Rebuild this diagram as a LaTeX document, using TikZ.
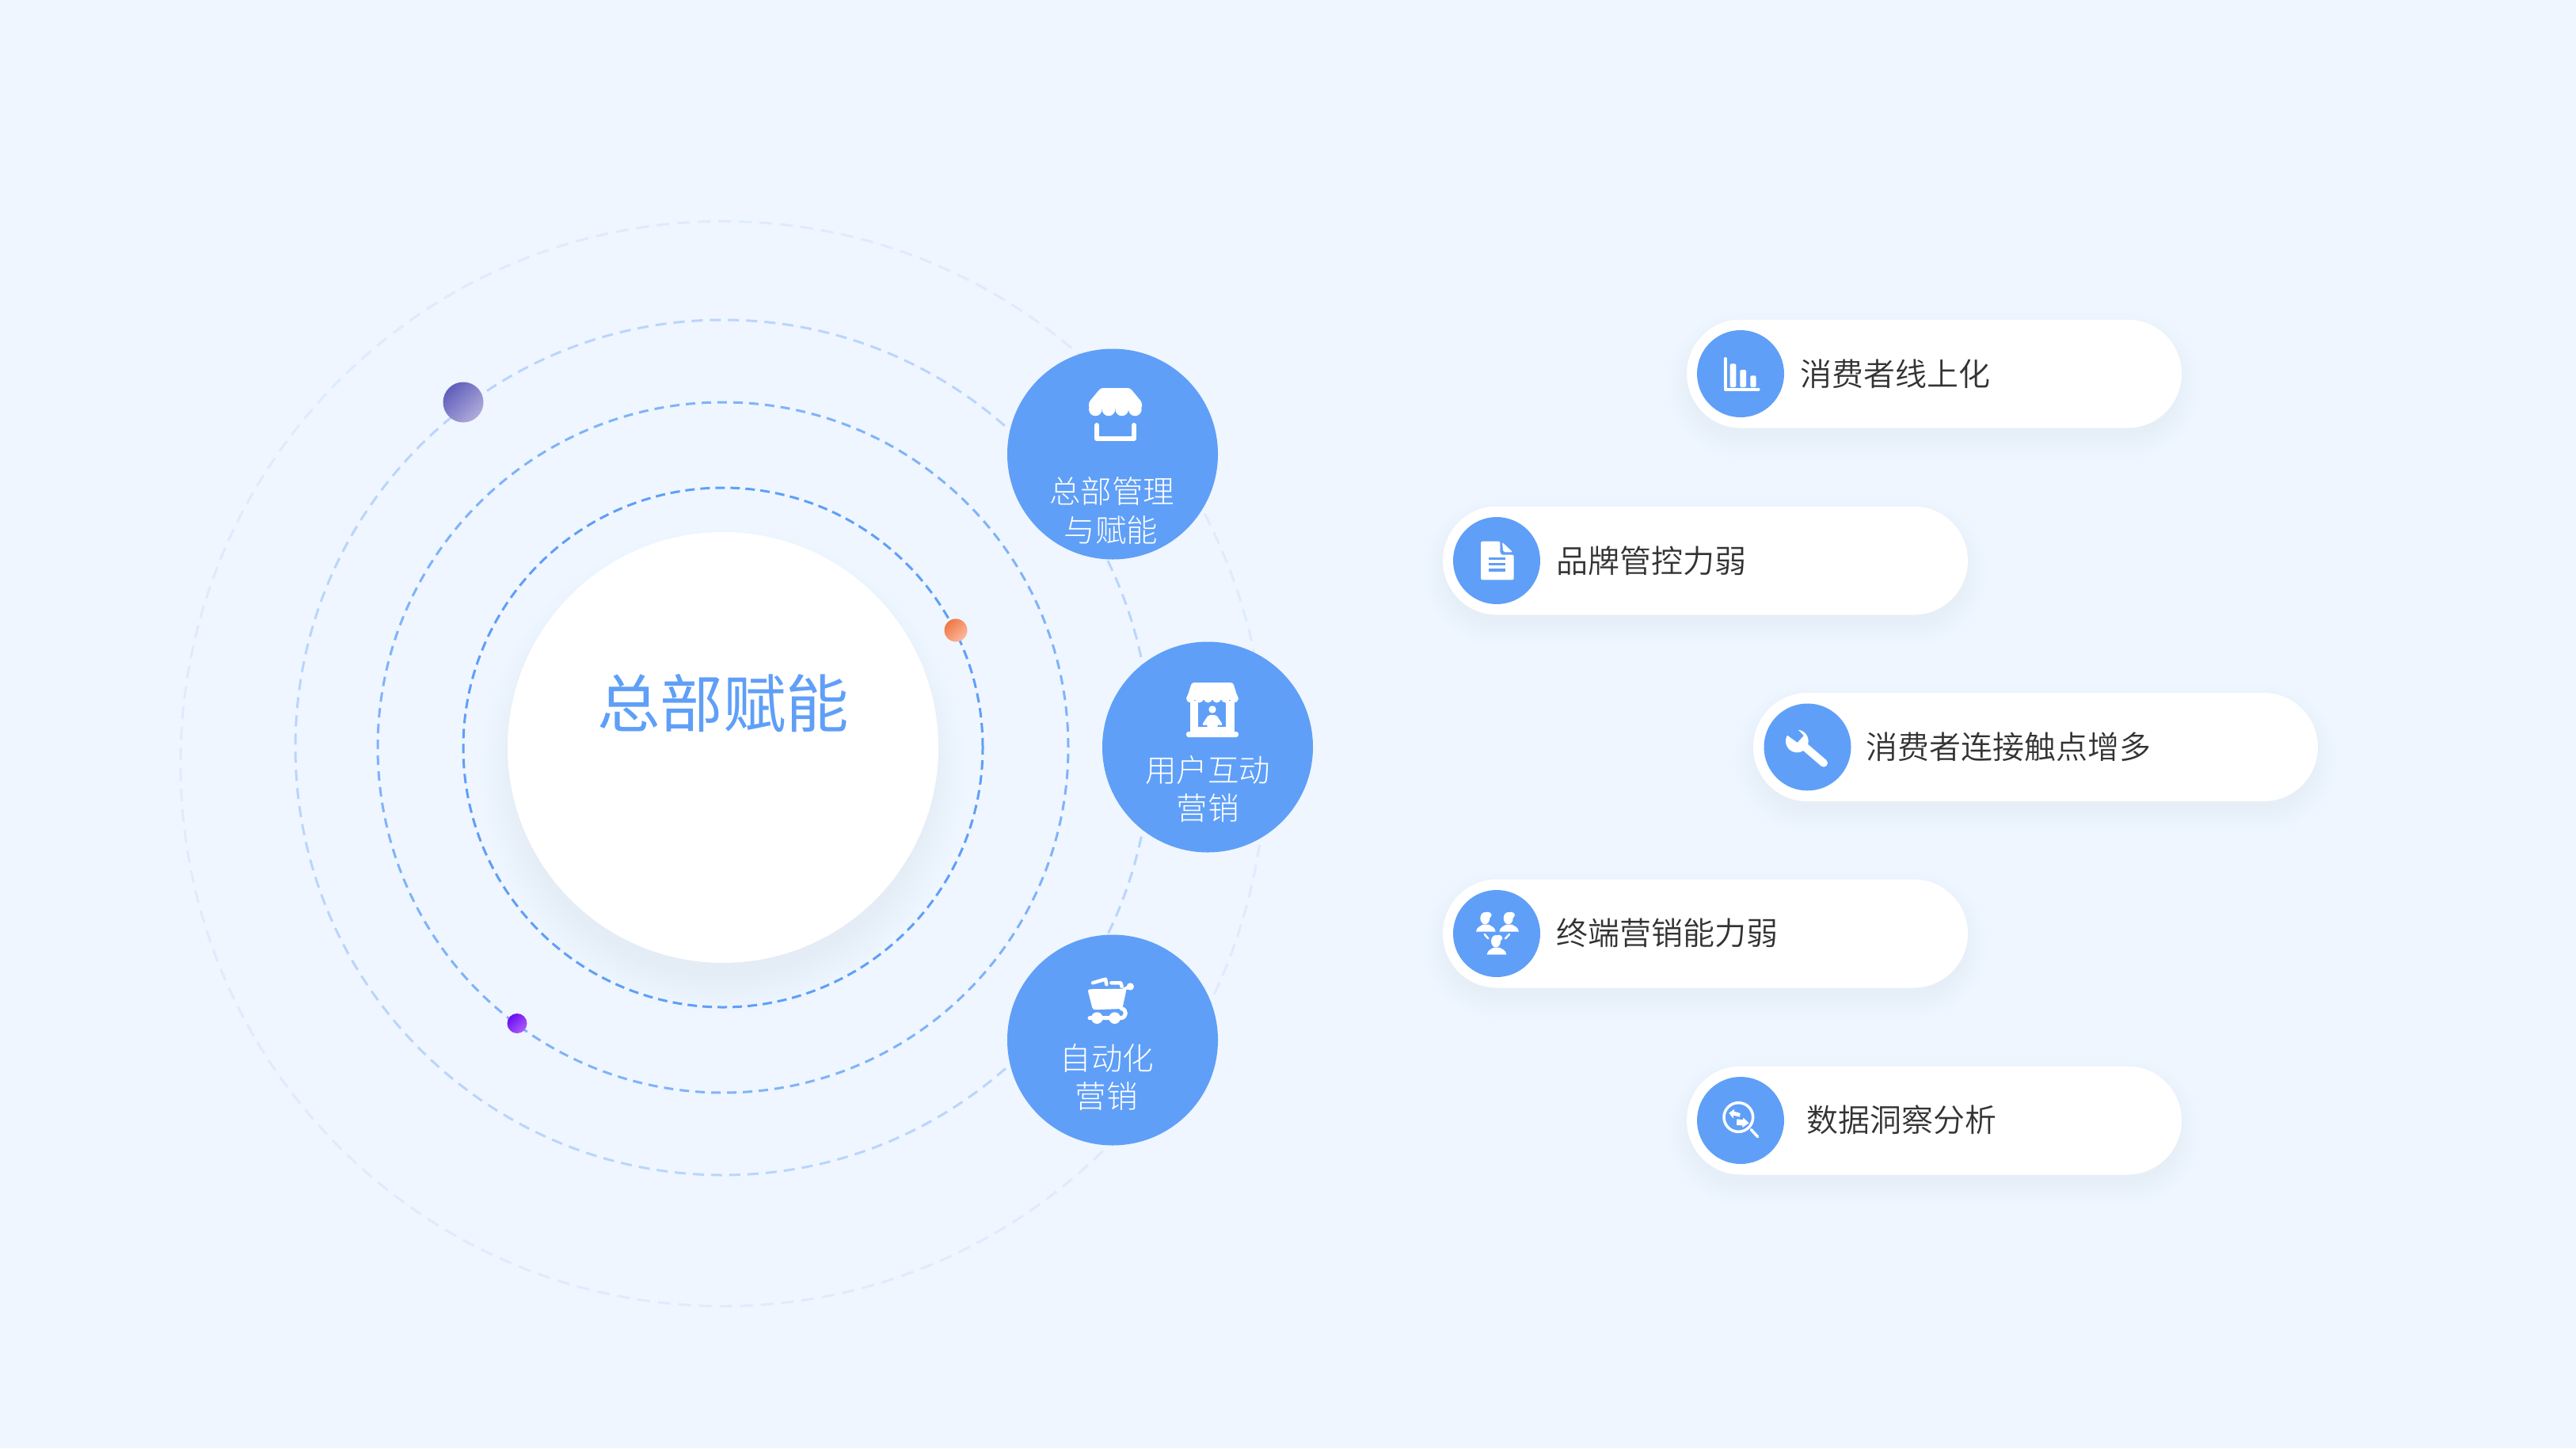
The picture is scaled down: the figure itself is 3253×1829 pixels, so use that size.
\documentclass[tikz,border=0pt]{standalone}
\usepackage{fontspec}
\newfontfamily\cjk{Noto Sans CJK SC Light}
\newfontfamily\cjkd{Noto Sans CJK SC DemiLight}
\newfontfamily\cjkr{Noto Sans CJK SC}
\usetikzlibrary{shapes.geometric}
\definecolor{bgc}{HTML}{EFF6FF}
\definecolor{bluec}{HTML}{5F9FF7}
\definecolor{ringa}{HTML}{5F9FF7}
\definecolor{ringb}{HTML}{80B3F9}
\definecolor{ringc}{HTML}{BAD5FC}
\definecolor{ringd}{HTML}{DFEBFD}
\definecolor{shadowc}{HTML}{6F7FB8}
\definecolor{darktext}{HTML}{333333}
\definecolor{HdotA}{HTML}{5F5FBC}
\definecolor{HdotB}{HTML}{B0ABDA}
\definecolor{OdotA}{HTML}{EF7846}
\definecolor{OdotB}{HTML}{FBB89E}
\definecolor{PdotA}{HTML}{6A0DF0}
\definecolor{PdotB}{HTML}{AC5CFA}
\tikzset{
  ringnode/.style={circle,inner sep=0pt,line width=3pt,fill=none},
  bigdisc/.style={circle,inner sep=0pt,minimum size=266pt,fill=bluec},
  icondisc/.style={circle,inner sep=0pt,minimum size=110pt,fill=bluec},
  disclabel/.style={inner sep=0pt,text=white,font=\cjk\fontsize{39.5}{44}\selectfont},
  pilllabel/.style={inner sep=0pt,anchor=west,text=darktext,font=\cjkd\fontsize{40}{44}\selectfont},
  glyph/.style={fill=white,draw=none},
  glyphline/.style={draw=white,line cap=round,line join=round},
}
\newcommand{\pillbox}[4]{% name, left, right, y centre
  \foreach \g in {-4,0,...,24}{
    \fill[shadowc,opacity=.009,rounded corners=68pt+\g pt]
      (#2-\g,#4+14-68.5-\g) rectangle (#3+\g,#4+14+68.5+\g);
  }
  \node[fill=white,inner sep=0pt,minimum width=#3pt-#2pt,minimum height=137pt,rounded corners=68.4pt] (#1) at ({(#2+#3)/2},#4) {};
}
\newcommand{\person}[2]{% x centre, head top (zoom units)
  \fill[glyph] (#1-3,#2+22) ellipse [x radius=18,y radius=23];
  \fill[glyph] (#1+7,#2+10) ellipse [x radius=15,y radius=12];
  \fill[glyph] (#1-37,#2+73) .. controls (#1-35,#2+55) and (#1-20,#2+52) .. (#1-11,#2+46) -- (#1+11,#2+46) .. controls (#1+20,#2+52) and (#1+35,#2+55) .. (#1+37,#2+73) -- cycle;
}
\begin{document}
\begin{tikzpicture}[x=1pt,y=-1pt]
\useasboundingbox (0,0) rectangle (3253,1829);
\fill[bgc] (0,0) rectangle (3253,1829);

% rings
\node[ringnode,minimum size=1370pt,draw=ringd,dash pattern=on 16pt off 10pt] (ringD) at (913,964.5) {};
\node[ringnode,minimum size=1080pt,draw=ringc,dash pattern=on 14pt off 9pt] (ringC) at (913,944) {};
\node[ringnode,minimum size=872pt,draw=ringb,dash pattern=on 12pt off 8pt] (ringB) at (913,944) {};

% centre shadow
\foreach \r in {260,265,...,305}{
  \fill[shadowc,opacity=.009] (913,974) circle (\r);
}
\node[ringnode,minimum size=656pt,draw=ringa,dash pattern=on 12pt off 7pt] (ringA) at (913,944) {};
\node[circle,inner sep=0pt,minimum size=544pt,fill=white] (centre) at (913,944) {};
\node[inner sep=0pt,text=bluec,font=\cjkr\fontsize{79.5}{86}\selectfont] (title) at (913,888) {总部赋能};

% orbit dots
\node[circle,inner sep=0pt,minimum size=51pt,top color=HdotA,bottom color=HdotB,shading angle=45] (dotA) at (585,508) {};
\node[circle,inner sep=0pt,minimum size=29pt,top color=OdotA,bottom color=OdotB,shading angle=45] (dotB) at (1207,796) {};
\node[circle,inner sep=0pt,minimum size=25pt,top color=PdotA,bottom color=PdotB,shading angle=45] (dotC) at (653,1292.5) {};

% big discs
\node[bigdisc] (discA) at (1405,573.5) {};
\node[bigdisc] (discB) at (1525,943.5) {};
\node[bigdisc] (discC) at (1405,1313.5) {};
\node[disclabel] (la1) at (1404,620) {总部管理};
\node[disclabel] (la2) at (1403,669) {与赋能};
\node[disclabel] (lb1) at (1525,972) {用户互动};
\node[disclabel] (lb2) at (1525,1021) {营销};
\node[disclabel] (lc1) at (1398,1336) {自动化};
\node[disclabel] (lc2) at (1397,1385) {营销};

% icon: store (disc A)
\fill[glyph,rounded corners=3pt] (1390,490) -- (1427,490) -- (1442,508) -- (1442,516) -- (1375,516) -- (1375,508) -- cycle;
\foreach \cx in {1383.3,1400,1416.7,1433.3}{\fill[glyph] (\cx,517) circle (8.3);}
\draw[glyphline,line width=6pt] (1385,537) -- (1385,554) -- (1432,554) -- (1432,537);

% icon: stall (disc B)
\fill[glyph,rounded corners=3pt] (1505,862) -- (1557,862) -- (1564,884) -- (1498,884) -- cycle;
\foreach \cx in {1503.5,1514.5,1525.5,1536.5,1547.5,1558.5}{\fill[glyph] (\cx,882) circle (5.5);}
\fill[glyph] (1503,885) rectangle (1513,925);
\fill[glyph] (1548,885) rectangle (1559,925);
\fill[glyph] (1503,918) rectangle (1559,925);
\fill[glyph,rounded corners=3pt] (1498,924) rectangle (1564,931);
\fill[glyph] (1531,896) circle (4.7);
\fill[glyph,rounded corners=2pt] (1518,915) -- (1526,903) -- (1536,903) -- (1544,915) -- (1540,917) -- (1538,914) -- (1538,918) -- (1524,918) -- (1524,914) -- (1522,917) -- cycle;

% icon: cart (disc C)
\begin{scope}[shift={(1240,1100)},x=.3333pt,y=-.3333pt]
  \fill[glyph,rounded corners=3pt] (400,448) -- (548,446) -- (532,522) -- (420,526) -- cycle;
  \draw[glyphline,line width=4.5pt] (420,424) -- (468,410) -- (472,430) (490,424) -- (526,424) -- (530,438);
  \draw[glyphline,line width=4pt] (540,447) -- (562,438);
  \fill[glyph] (562,438) circle (14);
  \draw[glyphline,line width=5pt] (408,557) -- (525,557) .. controls (548,557) and (552,525) .. (528,521);
  \fill[glyph] (436,557) circle (22);
  \fill[glyph] (503,557) circle (22);
\end{scope}

% pills
\pillbox{pillA}{2130}{2755}{472}
\pillbox{pillB}{1822}{2485}{708}
\pillbox{pillC}{2214}{2927}{943.5}
\pillbox{pillD}{1822}{2485}{1179}
\pillbox{pillE}{2130}{2755}{1415}

\node[icondisc] (iconA) at (2198,472) {};
\node[icondisc] (iconB) at (1890,708) {};
\node[icondisc] (iconC) at (2282.5,943.5) {};
\node[icondisc] (iconD) at (1890,1179) {};
\node[icondisc] (iconE) at (2198,1415) {};

\node[pilllabel] (ta) at (2273.5,472.5) {消费者线上化};
\node[pilllabel] (tb) at (1965.5,708.5) {品牌管控力弱};
\node[pilllabel] (tc) at (2356.5,943.5) {消费者连接触点增多};
\node[pilllabel] (td) at (1965.5,1178.5) {终端营销能力弱};
\node[pilllabel] (te) at (2281.5,1414.5) {数据洞察分析};

% icon: bars
\begin{scope}[shift={(2143,417)},x=.3333pt,y=-.3333pt]
  \draw[glyphline,line width=4pt] (107,108) -- (107,224) -- (233,224);
  \fill[glyph,rounded corners=2pt] (125,216) -- (125,127) -- (148,127) -- (148,216) -- cycle;
  \fill[glyph,rounded corners=2pt] (163,216) -- (163,150) -- (186,150) -- (186,216) -- cycle;
  \fill[glyph,rounded corners=2pt] (202,216) -- (202,172) -- (224,172) -- (224,216) -- cycle;
\end{scope}

% icon: document
\begin{scope}[shift={(1835,653)},x=.3333pt,y=-.3333pt]
  \fill[glyph,rounded corners=2pt] (105,92) -- (178,92) -- (178,125) .. controls (178,136) and (182,143) .. (192,143) -- (230,143) -- (230,238) -- (105,238) -- cycle;
  \fill[glyph,rounded corners=2pt] (186,95) -- (226,133) -- (190,133) -- cycle;
  \fill[bluec] (136,153) rectangle (199,163);
  \fill[bluec] (136,174) rectangle (199,184);
  \fill[bluec] (136,196) rectangle (199,206);
\end{scope}

% icon: wrench
\begin{scope}[shift={(2200,860)},x=.3333pt,y=-.3333pt]
  \fill[glyph] (208,228) circle (43);
  \fill[bluec] (177,210) -- (209,233) -- (233,207) -- (205,178) -- (185,145) -- (145,185) -- cycle;
  \draw[glyphline,line width=10pt] (238,250) -- (309,311);
\end{scope}

% icon: people
\begin{scope}[shift={(1835,1124)},x=.3333pt,y=-.3333pt]
  \person{124}{85}
  \person{212}{85}
  \person{165}{172}
  \draw[glyphline,line width=2.5pt] (119,168) -- (133,184);
  \draw[glyphline,line width=2.5pt] (213,168) -- (198,184);
\end{scope}

% icon: magnifier
\begin{scope}[shift={(2143,1360)},x=.3333pt,y=-.3333pt]
  \draw[white,line width=3.5pt] (157,153) circle (55);
  \draw[glyphline,line width=3.5pt] (205,200) -- (230,227);
  \fill[glyph] (121,137) -- (142,122) -- (140,131) -- (164,138) -- (162,152) -- (138,146) -- (137,157) -- cycle;
  \fill[glyph] (197,175) -- (175,155) -- (174,163) -- (151,160) -- (150,183) -- (172,184) -- (172,192) -- cycle;
\end{scope}
\end{tikzpicture}
\end{document}
